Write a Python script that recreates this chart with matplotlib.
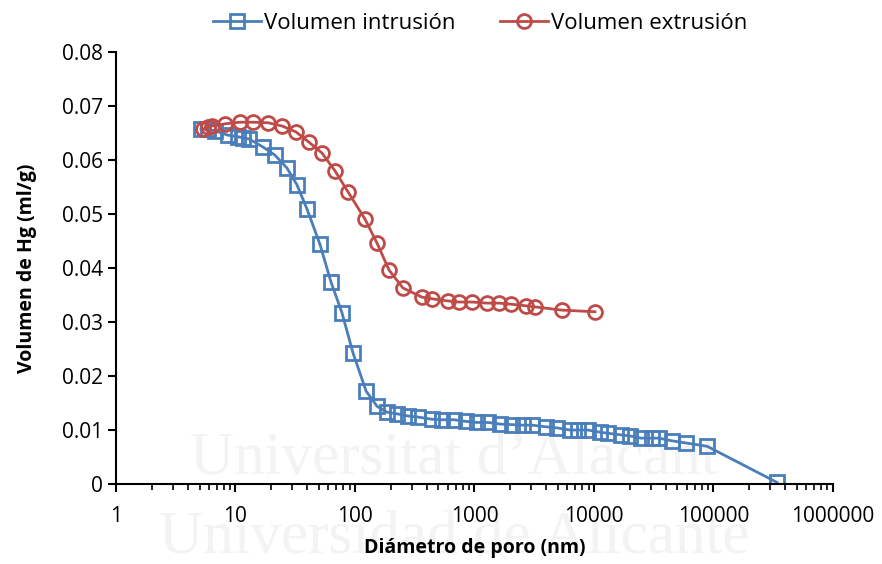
import numpy as np
import matplotlib
matplotlib.use('Agg')
import matplotlib.pyplot as plt
from matplotlib.ticker import LogLocator, NullFormatter, FuncFormatter

# intrusion curve (blue squares)
intr_d = [5.15, 5.89, 6.74, 8.65, 10.5, 11.6, 13.0, 17.0, 21.4, 27.0, 32.7, 39.7,
          50.9, 63.0, 77.9, 96.2, 124, 153, 185, 225, 278, 337, 441, 535, 673, 849,
          1050, 1297, 1634, 2060, 2545, 3027, 3963, 4898, 6292, 7345, 8907, 11230,
          13100, 16820, 20000, 24740, 30560, 34970, 44960, 58900, 88300, 340000]
intr_v = [0.0657, 0.0657, 0.0654, 0.0646, 0.0643, 0.0641, 0.0639, 0.0624, 0.0609,
          0.0585, 0.0554, 0.0509, 0.0444, 0.0374, 0.0317, 0.0243, 0.0172, 0.0144,
          0.0133, 0.0130, 0.0126, 0.0124, 0.0120, 0.0119, 0.0119, 0.0116, 0.0114,
          0.0114, 0.0111, 0.0110, 0.0109, 0.0109, 0.0106, 0.0104, 0.0100, 0.0100,
          0.0100, 0.0096, 0.0094, 0.0091, 0.0089, 0.0085, 0.0085, 0.0085, 0.0080,
          0.0076, 0.0070, 0.0003]

# extrusion curve (red circles)
extr_d = [5.35, 5.89, 6.36, 8.17, 10.9, 14.0, 18.7, 24.5, 32.1, 41.2, 52.9, 68.0,
          87.4, 121, 153, 193, 252, 364, 441, 600, 742, 953, 1273, 1603, 2020,
          2697, 3206, 5400, 10190]
extr_v = [0.0657, 0.0661, 0.0663, 0.0667, 0.0670, 0.0670, 0.0669, 0.0663, 0.0652,
          0.0633, 0.0613, 0.0580, 0.0541, 0.0491, 0.0446, 0.0396, 0.0363, 0.0346,
          0.0343, 0.0339, 0.0337, 0.0337, 0.0335, 0.0335, 0.0333, 0.0330, 0.0328,
          0.0322, 0.0319]

plt.rcParams['font.family'] = ['Open Sans', 'DejaVu Sans']

fig = plt.figure(figsize=(8.82, 5.64), dpi=100)

# faint watermark of the original scan, kept behind everything
bg = fig.add_axes([0, 0, 1, 1], zorder=-1)
bg.axis('off')
bg.text(0.515, 0.185, "Universitat d\u2019Alacant", fontsize=44, family='Liberation Serif',
        color='#f3f3f3', ha='center', va='center')
bg.text(0.515, 0.045, "Universidad de Alicante", fontsize=44, family='Liberation Serif',
        color='#f3f3f3', ha='center', va='center')

ax = fig.add_axes([0.1315, 0.1418, 0.8129, 0.766])

blue = '#4a7ebb'
red = '#be4b48'
ax.plot(intr_d, intr_v, color=blue, lw=2, marker='s', ms=10, mfc='none', mec=blue,
        mew=2, label='Volumen intrusión')
ax.plot(extr_d, extr_v, color=red, lw=2, marker='o', ms=10, mfc='none', mec=red,
        mew=2, label='Volumen extrusión')

ax.set_xscale('log')
ax.set_xlim(1, 1e6)
ax.set_ylim(0, 0.08)
ax.set_yticks(np.arange(0, 0.081, 0.01))
ax.yaxis.set_major_formatter(FuncFormatter(lambda v, p: '0' if v == 0 else f'{v:.2f}'))
ax.xaxis.set_major_locator(LogLocator(base=10, numticks=10))
ax.xaxis.set_major_formatter(FuncFormatter(lambda v, p: f'{int(round(v))}'))
ax.xaxis.set_minor_locator(LogLocator(base=10, subs=np.arange(2, 10), numticks=20))
ax.xaxis.set_minor_formatter(NullFormatter())

ax.patch.set_alpha(0)
for s in ['top', 'right']:
    ax.spines[s].set_visible(False)
for s in ['left', 'bottom']:
    ax.spines[s].set_linewidth(1.5)
ax.tick_params(axis='both', which='major', labelsize=15, length=6, width=1.5, direction='out')
ax.tick_params(axis='x', which='minor', length=4, width=1.2, direction='out')
ax.tick_params(axis='x', pad=10)

ax.set_xlabel('Diámetro de poro (nm)', fontsize=14, fontweight='bold', labelpad=8)
ax.set_ylabel('Volumen de Hg (ml/g)', fontsize=14, fontweight='bold', labelpad=18)

fig.legend(loc='upper center', bbox_to_anchor=(0.544, 1.012), ncol=2, frameon=False,
           fontsize=16, handlelength=2.2, handletextpad=0.1, columnspacing=2.0)

fig.savefig('out.png', dpi=100)
